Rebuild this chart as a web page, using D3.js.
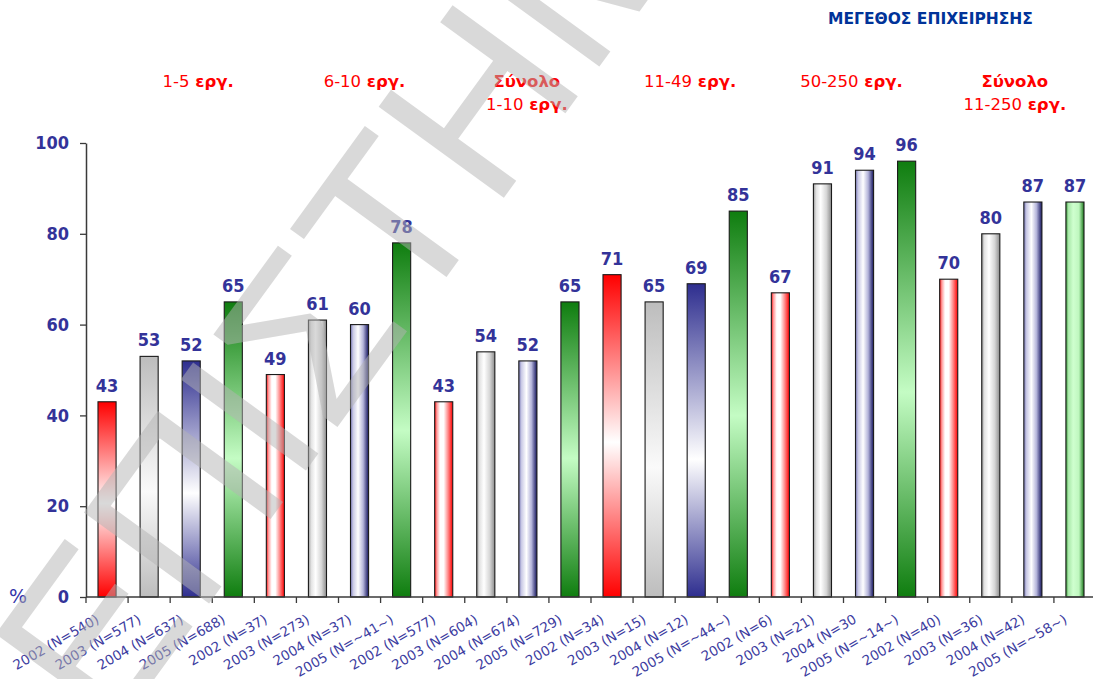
<!DOCTYPE html>
<html>
<head>
<meta charset="utf-8">
<script src="https://cdn.jsdelivr.net/npm/d3@7"></script>
<style>
  html, body { margin: 0; padding: 0; background: #fff; }
  svg { display: block; }
</style>
</head>
<body>
<svg id="chart" width="1093" height="679"></svg>
<script>
// Company-size groups and the survey years shown inside each group
const groupHeadings = [
  ["1-5 εργ."],
  ["6-10 εργ."],
  ["Σύνολο", "1-10 εργ."],
  ["11-49 εργ."],
  ["50-250 εργ."],
  ["Σύνολο", "11-250 εργ."]
];
const years = ["2002", "2003", "2004", "2005"];

// Category labels (year and sample size)
const tickLabels = [
  "2002 (N=540)", "2003 (N=577)", "2004 (N=637)", "2005 (N=688)",
  "2002 (N=37)", "2003 (N=273)", "2004 (N=37)", "2005 (N=~41~)",
  "2002 (N=577)", "2003 (N=604)", "2004 (N=674)", "2005 (N=729)",
  "2002 (N=34)", "2003 (N=15)", "2004 (N=12)", "2005 (N=~44~)",
  "2002 (N=6)", "2003 (N=21)", "2004 (N=30", "2005 (N=~14~)",
  "2002 (N=40)", "2003 (N=36)", "2004 (N=42)", "2005 (N=~58~)"
];

// Percentages per group, in year order 2002..2005
const values1to5 = [43, 53, 52, 65];
const values6to10 = [49, 61, 60, 78];
const valuesTotal1to10 = [43, 54, 52, 65];
const values11to49 = [71, 65, 69, 85];
const values50to250 = [67, 91, 94, 96];
const valuesTotal11to250 = [70, 80, 87, 87];

const yTicks = [0, 20, 40, 60, 80, 100];

// ---- styling ----
const title = "ΜΕΓΕΘΟΣ ΕΠΙΧΕΙΡΗΣΗΣ";
const labelColor = "#333399";
const headingShift = [28, 26, 20, 15, 8, 3];
// 'v' = shaded top-to-bottom, 'h' = shaded left-to-right (cylinder look)
const shading = [
  ["v", "v", "v", "v"],
  ["h", "h", "h", "v"],
  ["h", "h", "h", "v"],
  ["v", "v", "v", "v"],
  ["h", "h", "h", "v"],
  ["h", "h", "h", "h"]
];
const yearColor = ["red", "gray", "blue", "green"];

const groupValues = [values1to5, values6to10, valuesTotal1to10, values11to49, values50to250, valuesTotal11to250];
const bars = [];
groupValues.forEach((vals, g) => vals.forEach((v, k) => {
  bars.push({ g, k, year: years[k], value: v, label: tickLabels[g * 4 + k],
              style: yearColor[k] + "-" + shading[g][k] });
}));

const svg = d3.select("#chart");
const margin = { left: 86, right: 1096, top: 143, bottom: 597 };

const x = d3.scaleBand()
  .domain(d3.range(bars.length))
  .range([margin.left, margin.right])
  .paddingInner(0.57)
  .paddingOuter(0.285);
const y = d3.scaleLinear().domain([0, 100]).range([margin.bottom, margin.top]);
const step = x.step();

// ---- gradients ----
const defs = svg.append("defs");
function grad(id, vertical, stops) {
  const lg = defs.append("linearGradient").attr("id", id)
    .attr("x1", 0).attr("y1", 0)
    .attr("x2", vertical ? 0 : 1).attr("y2", vertical ? 1 : 0);
  stops.forEach(([o, c]) => lg.append("stop").attr("offset", o).attr("stop-color", c));
}
grad("red-v", true, [[0, "#ff0000"], [0.52, "#ffffff"], [1, "#ff0000"]]);
grad("gray-v", true, [[0, "#bdbdbd"], [0.56, "#fafafa"], [1, "#bdbdbd"]]);
grad("blue-v", true, [[0, "#2e2e8f"], [0.56, "#ffffff"], [1, "#2e2e8f"]]);
grad("green-v", true, [[0, "#0f7d0f"], [0.53, "#c4fcc4"], [1, "#0f7d0f"]]);
grad("red-h", false, [[0, "#ff1010"], [0.12, "#ff9a9a"], [0.3, "#ffffff"], [0.5, "#ffffff"], [0.75, "#ff8585"], [1, "#ff0000"]]);
grad("gray-h", false, [[0, "#9a9a9a"], [0.15, "#e2e2e2"], [0.4, "#ffffff"], [0.72, "#d6d6d6"], [1, "#8c8c8c"]]);
grad("blue-h", false, [[0, "#7a7ab8"], [0.15, "#cacae6"], [0.42, "#ffffff"], [0.7, "#b4b4da"], [1, "#14145e"]]);
grad("green-h", false, [[0, "#3a9a3a"], [0.14, "#a8e8a8"], [0.4, "#cfffcf"], [0.72, "#bff7bf"], [1, "#1c7a1c"]]);

// ---- title and group headings ----
svg.append("text")
  .attr("x", 828).attr("y", 24)
  .attr("font-family", "DejaVu Sans, sans-serif")
  .attr("font-weight", "bold").attr("font-size", 15.5)
  .attr("fill", "#003399")
  .text(title);

const groupCenter = g => (x(g * 4) + x(g * 4 + 3) + x.bandwidth()) / 2;
groupHeadings.forEach((lines, g) => {
  const t = svg.append("text")
    .attr("text-anchor", "middle")
    .attr("font-family", "DejaVu Sans, sans-serif")
    .attr("font-size", 16.5)
    .attr("fill", "#ff0000");
  lines.forEach((line, i) => {
    const ln = t.append("tspan")
      .attr("x", groupCenter(g) + headingShift[g])
      .attr("y", 87 + i * 23);
    line.split(" ").forEach((word, j) => {
      ln.append("tspan")
        .attr("font-weight", /^[\d-]+$/.test(word) ? "normal" : "bold")
        .text((j > 0 ? " " : "") + word);
    });
  });
});

// ---- axes ----
const axisColor = "#3a3a3a";
const yAxis = svg.append("g")
  .attr("transform", `translate(${margin.left},0)`)
  .call(d3.axisLeft(y).tickValues(yTicks).tickSize(6).tickPadding(11).tickSizeOuter(0));
yAxis.select(".domain").attr("stroke", axisColor).attr("stroke-width", 1.5);
yAxis.selectAll(".tick line").attr("stroke", axisColor).attr("stroke-width", 1.3);
yAxis.selectAll(".tick text")
  .attr("font-family", "DejaVu Sans Condensed, DejaVu Sans, sans-serif")
  .attr("font-weight", "bold").attr("font-size", 18)
  .attr("fill", labelColor);

svg.append("text")
  .attr("x", 9).attr("y", 603)
  .attr("font-family", "DejaVu Sans, sans-serif")
  .attr("font-size", 19)
  .attr("fill", "#3333aa")
  .text("%");

// ---- bars ----
svg.append("g").selectAll("rect")
  .data(bars)
  .join("rect")
  .attr("x", (d, i) => x(i))
  .attr("y", d => y(d.value))
  .attr("width", x.bandwidth())
  .attr("height", d => y(0) - y(d.value))
  .attr("fill", d => `url(#${d.style})`)
  .attr("stroke", "#1a1a1a")
  .attr("stroke-width", 1.1);

// value labels
svg.append("g").selectAll("text")
  .data(bars)
  .join("text")
  .attr("x", (d, i) => x(i) + x.bandwidth() / 2)
  .attr("y", d => y(d.value) - 10)
  .attr("text-anchor", "middle")
  .attr("font-family", "DejaVu Sans Condensed, DejaVu Sans, sans-serif")
  .attr("font-weight", "bold").attr("font-size", 18)
  .attr("fill", labelColor)
  .text(d => d.value);

// x axis line and ticks at category boundaries
const xAxis = svg.append("g");
xAxis.append("line")
  .attr("x1", margin.left).attr("x2", 1093)
  .attr("y1", y(0)).attr("y2", y(0))
  .attr("stroke", axisColor).attr("stroke-width", 1.5);
xAxis.selectAll(".xtick")
  .data(d3.range(bars.length + 1))
  .join("line")
  .attr("class", "xtick")
  .attr("x1", i => margin.left + i * step).attr("x2", i => margin.left + i * step)
  .attr("y1", y(0)).attr("y2", y(0) + 6)
  .attr("stroke", axisColor).attr("stroke-width", 1.3);

xAxis.selectAll(".xlabel")
  .data(bars)
  .join("text")
  .attr("class", "xlabel")
  .attr("transform", (d, i) => `translate(${x(i) + x.bandwidth() / 2 - 7},622) rotate(-30)`)
  .attr("text-anchor", "end")
  .attr("font-family", "DejaVu Sans, sans-serif")
  .attr("font-size", 13.5)
  .attr("fill", "#3c3ca0")
  .text(d => d.label);

// ---- diagonal watermark ----
svg.append("text")
  .attr("transform", "translate(110,740) rotate(-54)")
  .attr("font-family", "Liberation Sans, Arial, sans-serif")
  .attr("font-size", 225)
  .attr("fill", "#b4b4b4")
  .attr("fill-opacity", 0.5)
  .attr("pointer-events", "none")
  .text("ΕΠΙΣΤΗΜΗ");
</script>
</body>
</html>
